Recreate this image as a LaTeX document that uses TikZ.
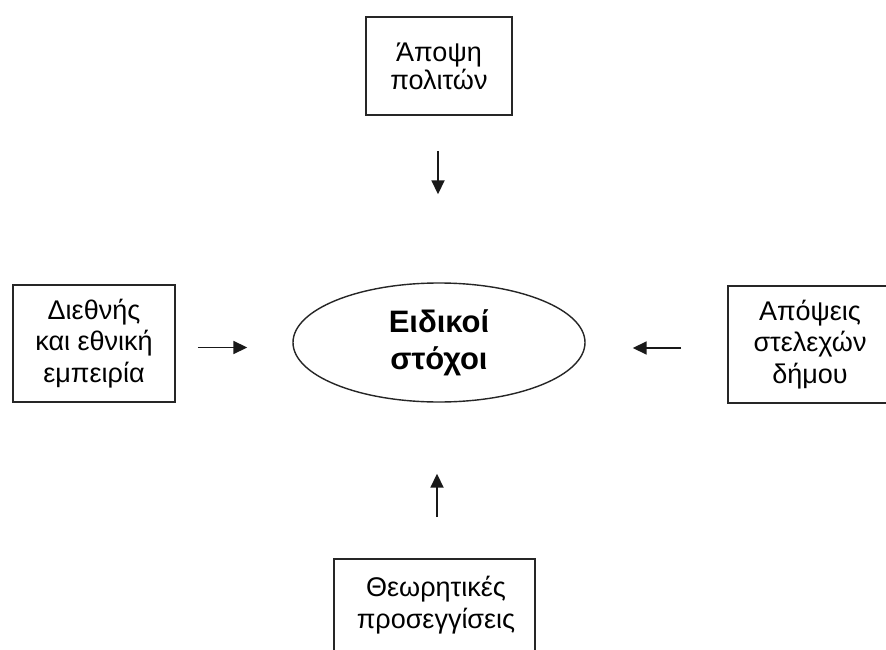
\documentclass[tikz,border=0pt]{standalone}
\usepackage{fontspec}
\setmainfont{Liberation Sans}
\usetikzlibrary{arrows.meta,shapes.geometric}
\tikzset{
  srcbox/.style={draw=black!85, line width=1.6pt, align=center, inner sep=0pt,
    font=\fontsize{27}{31.5}\selectfont},
  goal/.style={ellipse, draw=black!85, line width=1.4pt, minimum width=292pt, minimum height=119pt,
    align=center, inner sep=0pt, font=\fontsize{31}{37}\selectfont\bfseries},
  arr/.style={draw=black!90, line width=1.8pt, -{Triangle[length=14pt,width=13pt]}}
}
\begin{document}
\begin{tikzpicture}[x=1pt,y=-1pt]
\useasboundingbox (0,0) rectangle (886,650);
\clip (0,0) rectangle (886,650);
\fill[white] (0,0) rectangle (886,650);
\node[goal] (ell) at (439,342.5) {Ειδικοί\\στόχοι};
\node[srcbox, minimum width=146pt, minimum height=98pt, font=\fontsize{27}{28}\selectfont] (top) at (439,66) {Άποψη\\πολιτών};
\node[srcbox, minimum width=162pt, minimum height=117pt] (left) at (94,343.5) {Διεθνής\\και εθνική\\εμπειρία};
\node[srcbox, minimum width=164pt, minimum height=117pt] (right) at (810,344.5) {Απόψεις\\στελεχών\\δήμου};
\node[srcbox, minimum width=201pt, minimum height=180pt] (bot) at (434.5,649) {};
\node[font=\fontsize{27}{32}\selectfont, align=center, inner sep=0pt] (bottxt) at (436,605) {Θεωρητικές\\προσεγγίσεις};
\draw[arr, shorten <=35pt, shorten >=88pt] ([xshift=-1pt]top.south) -- ([xshift=-1pt]top.south |- ell.north);
\draw[arr, shorten <=22pt, shorten >=45pt] ([yshift=-4pt]left.east) -- ([yshift=-4pt]left.east -| ell.west);
\draw[arr, shorten <=46pt, shorten >=47pt] ([yshift=-3.5pt]right.west) -- ([yshift=-3.5pt]right.west -| ell.east);
\draw[arr, shorten <=41pt, shorten >=71pt] ([xshift=2.5pt]bot.north) -- ([xshift=2.5pt]bot.north |- ell.south);
\end{tikzpicture}
\end{document}
